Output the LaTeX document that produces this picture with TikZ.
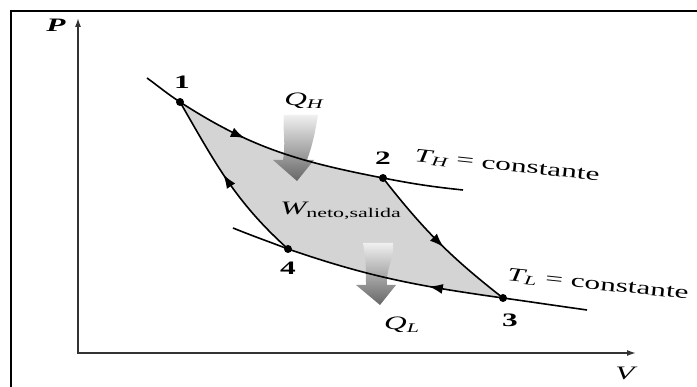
\documentclass[tikz,border=0pt]{standalone}
\usepackage{fontspec}
\setmainfont{Liberation Serif}
\usetikzlibrary{arrows.meta,decorations.markings}

\tikzset{
  lbl/.style={font=\fontsize{19}{22}\selectfont, xscale=1.65, inner sep=0pt},
  curve/.style={line width=1.6pt},
  axis/.style={line width=1.5pt, black!80, {Latex[length=9pt,width=6pt]}-{Latex[length=9pt,width=6pt]}},
  midarrow/.style={postaction={decorate}, decoration={markings,
    mark=at position #1 with {\arrow{Latex[length=14pt,width=10pt]}}}},
  heatarrow/.style={top color=black!6, bottom color=black!60, draw=none},
}

\begin{document}
\begin{tikzpicture}[x=1pt,y=1pt]
\useasboundingbox (0,0) rectangle (697,387);
% frame
\draw[line width=1.6pt] (11,0) -- (11,376) -- (697,376);
% axes
\coordinate (O) at (78,34);
\coordinate (Ptop) at (78,369);
\coordinate (Vend) at (636,34);
\draw[axis] (Ptop) -- (O) -- (Vend);
\node[lbl] (pax) at (56,362) {\bfseries\itshape P};
\node[lbl] (vax) at (625,14) {\itshape V};
% states of the cycle
\coordinate (p1) at (180,285);
\coordinate (p2) at (383,209);
\coordinate (p3) at (503,89);
\coordinate (p4) at (288,138);
\coordinate (h0) at (147,309);
\coordinate (h5) at (463,197);
\coordinate (l0) at (233,159);
\coordinate (l5) at (587,77);
\fill[black!17] (p1) to[out=-33,in=169] (p2) to[out=-52,in=142] (p3)
  to[out=172,in=-19] (p4) to[out=138,in=-60] (p1) -- cycle;
% heat in and heat out
\shade[heatarrow] (284,272) -- (318,272) to[out=-100,in=70] (307,227) -- (314,227)
  -- (297,206) -- (273,227) -- (283,227) to[out=80,in=-95] (284,272) -- cycle;
\shade[heatarrow] (363,144) -- (393,144) to[out=-85,in=95] (387,102) -- (396,102)
  -- (380,82) -- (356,102) -- (366,102) to[out=90,in=-80] (363,144) -- cycle;
% isotherms and adiabats
\draw[curve] (h0) to[out=-36,in=147] (p1);
\draw[curve, midarrow=0.34] (p1) to[out=-33,in=169] (p2);
\draw[curve] (p2) to[out=-11,in=174] (h5);
\draw[curve, midarrow=0.54] (p2) to[out=-52,in=142] (p3);
\draw[curve] (l0) to[out=-22,in=159] (p4);
\draw[curve, midarrow=0.34] (p3) to[out=172,in=-19] (p4);
\draw[curve] (p3) to[out=-8,in=172] (l5);
\draw[curve, midarrow=0.54] (p4) to[out=138,in=-60] (p1);
\fill[black] (p1) circle (4);
\fill[black] (p2) circle (4);
\fill[black] (p3) circle (4);
\fill[black] (p4) circle (4);
% labels
\node[lbl] (n1) at (182,305) {\bfseries 1};
\node[lbl] (n2) at (383,229) {\bfseries 2};
\node[lbl] (n3) at (510,67) {\bfseries 3};
\node[lbl] (n4) at (288,119) {\bfseries 4};
\node[lbl] (qh) at (304,286) {\itshape Q\textsubscript{H}};
\node[lbl] (ql) at (402,62) {\itshape Q\textsubscript{L}};
\node[lbl] (wnet) at (341,176) {\itshape W\textsubscript{\upshape neto,salida}};
\node[rotate=-6, lbl] (th) at (507,221) {\itshape T\textsubscript{H}\upshape\ = constante};
\node[rotate=-6, lbl] (tl) at (598,102) {\itshape T\textsubscript{L}\upshape\ = constante};
\end{tikzpicture}
\end{document}
